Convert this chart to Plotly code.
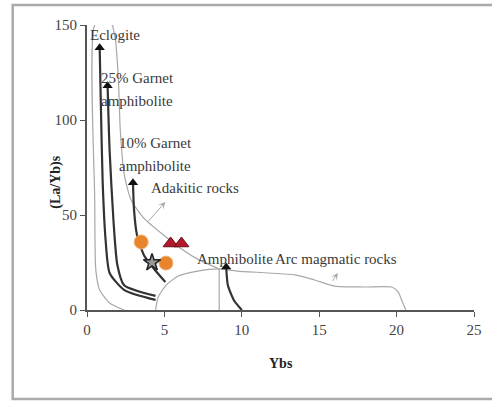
import plotly.graph_objects as go

# ---- data ----
eclogite_x = [0.82, 0.89, 1.01, 1.20, 1.46, 2.41, 4.43]
eclogite_y = [138, 110, 68, 37, 19.5, 10.5, 5.3]

garnet25_x = [1.33, 1.46, 1.71, 1.96, 2.40, 4.43]
garnet25_y = [118, 84, 47, 23.7, 13, 7.4]

garnet10_x = [2.97, 3.04, 3.23, 3.67, 4.30, 5.06]
garnet10_y = [67, 52.6, 39.5, 29, 22, 14.7]

amphibolite_x = [8.99, 9.1, 9.5, 10.0]
amphibolite_y = [22.6, 13, 5, 0]

adakite_left_x = [1.65, 1.1, 0.5, 0.5, 0.57, 0.82, 1.46, 2.4]
adakite_left_y = [150, 151, 150, 58, 21, 10.5, 3.7, 0]

adakite_upper_x = [1.65, 1.84, 2.03, 2.15, 2.41, 2.85, 3.67, 4.94, 6.2, 7.2, 8.54]
adakite_upper_y = [150, 142, 121, 94.7, 71, 57.9, 48.4, 39.5, 31.6, 26.5, 21.6]

arc_x = [4.43, 4.6, 5.1, 5.9, 7.15, 8.54, 9.68, 13.5, 14.7, 16.0, 17.9, 19.7, 20.1, 20.4, 20.6]
arc_y = [0, 6.8, 13, 17.9, 20.5, 21.6, 20.5, 18.4, 15.8, 12.6, 12.1, 12.1, 9.5, 3.7, 0]

divider_x = [8.54, 8.54]
divider_y = [0, 21.6]

circle_x = [3.5, 5.1]
circle_y = [35.8, 24.7]
triangle_x = [5.4, 6.1]
triangle_y = [35, 35]
star_x = [4.2]
star_y = [25]

x_ticks = [0, 5, 10, 15, 20, 25]
y_ticks = [0, 50, 100, 150]

labels = [
    ("Eclogite", 0.05, 145),
    ("25% Garnet", 0.8, 122),
    ("amphibolite", 0.8, 110),
    ("10% Garnet", 1.95, 88),
    ("amphibolite", 1.95, 76),
    ("Adakitic rocks", 4.0, 64),
    ("Amphibolite", 7.0, 27),
    ("Arc magmatic rocks", 12.0, 27),
]

FONT = "Liberation Serif"
DARK = "#333333"
GRAY = "#a8a8a8"

fig = go.Figure()

def thin(x, y):
    fig.add_trace(go.Scatter(x=x, y=y, mode="lines", line=dict(color=GRAY, width=1.2, shape="spline", smoothing=0.6),
                             hoverinfo="skip", showlegend=False))

def thick(x, y):
    fig.add_trace(go.Scatter(x=x, y=y, mode="lines", line=dict(color=DARK, width=2.2, shape="spline", smoothing=0.6),
                             hoverinfo="skip", showlegend=False))
    fig.add_trace(go.Scatter(x=[x[0]], y=[y[0]], mode="markers",
                             marker=dict(symbol="triangle-up", size=9, color="#111111"),
                             hoverinfo="skip", showlegend=False))

thin(adakite_left_x, adakite_left_y)
thin(adakite_upper_x, adakite_upper_y)
thin(arc_x, arc_y)
fig.add_trace(go.Scatter(x=divider_x, y=divider_y, mode="lines", line=dict(color=GRAY, width=1.2),
                         hoverinfo="skip", showlegend=False))

thick(eclogite_x, eclogite_y)
thick(garnet25_x, garnet25_y)
thick(garnet10_x, garnet10_y)
thick(amphibolite_x, amphibolite_y)

# thin gray arrows
fig.add_annotation(x=5.06, y=56.8, ax=3.86, ay=45.8, xref="x", yref="y", axref="x", ayref="y",
                   showarrow=True, arrowhead=3, arrowsize=1.2, arrowwidth=1, arrowcolor=GRAY, text="")
fig.add_annotation(x=16.2, y=19.5, ax=15.8, ay=14.5, xref="x", yref="y", axref="x", ayref="y",
                   showarrow=True, arrowhead=3, arrowsize=1.2, arrowwidth=1, arrowcolor=GRAY, text="")

fig.add_trace(go.Scatter(x=circle_x, y=circle_y, mode="markers",
                         marker=dict(symbol="circle", size=14, color="#E8842C", line=dict(color="#f3b27a", width=1)),
                         hoverinfo="skip", showlegend=False))
fig.add_trace(go.Scatter(x=triangle_x, y=triangle_y, mode="markers",
                         marker=dict(symbol="triangle-up", size=13, color="#B3182B", line=dict(color="#6e0f18", width=1)),
                         hoverinfo="skip", showlegend=False))
fig.add_trace(go.Scatter(x=star_x, y=star_y, mode="markers",
                         marker=dict(symbol="star", size=13, color="#9a9a9a", line=dict(color="#222222", width=1.5)),
                         hoverinfo="skip", showlegend=False))

for t, x, y in labels:
    fig.add_annotation(x=x, y=y, text=t, showarrow=False, xanchor="left", yanchor="middle",
                       font=dict(family=FONT, size=15, color="#3a3a3a"), bgcolor="rgba(255,255,255,0)")

# axis titles
fig.add_annotation(x=0.5, y=-0.222, xref="paper", yref="paper", text="<b>Ybs</b>", showarrow=False,
                   font=dict(family=FONT, size=14, color="#222222"))
fig.add_annotation(x=-0.106, y=0.45, xref="paper", yref="paper", text="<b>(La/Yb)s</b>", showarrow=False,
                   textangle=-90, font=dict(family=FONT, size=14, color="#222222"))

# outer frame
fig.add_shape(type="rect", xref="paper", yref="paper", x0=-0.192, x1=1.1, y0=-0.312, y1=1.07,
              line=dict(color="#aaaaaa", width=2.5), fillcolor="rgba(0,0,0,0)", layer="below")

fig.update_layout(
    width=492, height=408,
    margin=dict(l=87, r=10, t=25, b=98),
    paper_bgcolor="white", plot_bgcolor="white",
    showlegend=False,
    font=dict(family=FONT, size=15, color="#444444"),
    xaxis=dict(range=[0, 25], tickvals=x_ticks, showgrid=False, zeroline=False,
               showline=True, linecolor="#555555", linewidth=2, ticks="outside", ticklen=5,
               tickcolor="#555555", tickfont=dict(family=FONT, size=15, color="#444444")),
    yaxis=dict(range=[0, 150], tickvals=y_ticks, showgrid=False, zeroline=False,
               showline=True, linecolor="#555555", linewidth=2, ticks="outside", ticklen=5,
               tickcolor="#555555", tickfont=dict(family=FONT, size=15, color="#444444")),
)

fig.write_html("out.html")
